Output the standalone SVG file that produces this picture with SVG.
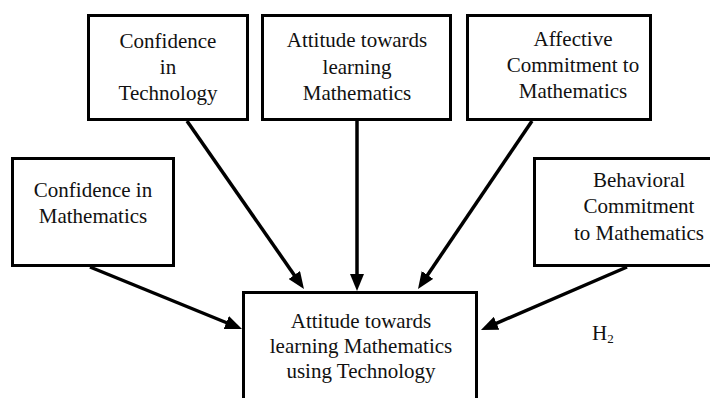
<svg xmlns="http://www.w3.org/2000/svg" width="710" height="398" viewBox="0 0 710 398">
<style>
.box{fill:#fff;stroke:#000;stroke-width:3}
.t{font-family:"Liberation Serif","Times New Roman",serif;font-size:21px;fill:#111;text-anchor:middle}
.c{stroke:#000;stroke-width:3.5;fill:none;marker-end:url(#ah)}
</style>
<defs>
<marker id="ah" markerUnits="userSpaceOnUse" markerWidth="17" markerHeight="14" refX="9" refY="7" orient="auto">
<path d="M0,0 L17,7 L0,14 z" fill="#000"/>
</marker>
</defs>
<rect width="710" height="398" fill="#fff"/>
<g id="n-conf-tech">
<rect class="box" x="88.5" y="15.5" width="159" height="104"/>
<text class="t" x="168" y="48">Confidence</text>
<text class="t" x="168" y="74">in</text>
<text class="t" x="168" y="100">Technology</text>
</g>
<g id="n-att-learn">
<rect class="box" x="262.5" y="15.5" width="188" height="104"/>
<text class="t" x="357" y="47">Attitude towards</text>
<text class="t" x="357" y="74">learning</text>
<text class="t" x="357" y="100">Mathematics</text>
</g>
<g id="n-affective">
<rect class="box" x="467.5" y="15.5" width="183" height="104"/>
<text class="t" x="573" y="46">Affective</text>
<text class="t" x="573" y="72">Commitment to</text>
<text class="t" x="573" y="98">Mathematics</text>
</g>
<g id="n-conf-math">
<rect class="box" x="12.5" y="158.5" width="161" height="107"/>
<text class="t" x="93" y="197">Confidence in</text>
<text class="t" x="93" y="223">Mathematics</text>
</g>
<g id="n-behavioral">
<rect class="box" x="534.5" y="158.5" width="210" height="107"/>
<text class="t" x="639" y="187">Behavioral</text>
<text class="t" x="639" y="213">Commitment</text>
<text class="t" x="639" y="240">to Mathematics</text>
</g>
<g id="n-central">
<rect class="box" x="243.5" y="292.5" width="233" height="120"/>
<text class="t" x="361" y="328">Attitude towards</text>
<text class="t" x="361" y="353">learning Mathematics</text>
<text class="t" x="361" y="378">using Technology</text>
</g>
<g id="connectors">
<line class="c" x1="187" y1="121" x2="299.4" y2="282.4"/>
<line class="c" x1="357" y1="121" x2="357" y2="283"/>
<line class="c" x1="532" y1="121" x2="422.5" y2="282.4"/>
<line class="c" x1="90" y1="267" x2="234.6" y2="326"/>
<line class="c" x1="627" y1="267" x2="488.3" y2="326.8"/>
</g>
<text class="t" x="592" y="340" style="text-anchor:start">H<tspan font-size="13" dy="3">2</tspan></text>
</svg>
